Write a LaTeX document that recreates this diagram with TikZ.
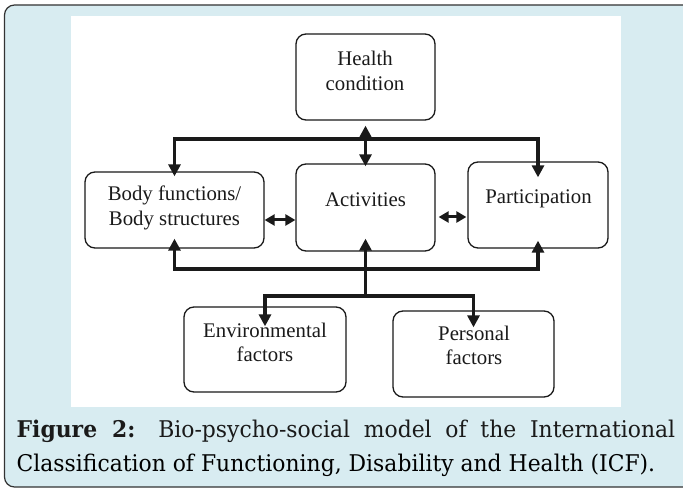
\documentclass[tikz,border=0pt]{standalone}
\usepackage{fontspec}
\usepackage{graphicx}
\usetikzlibrary{arrows.meta}
\newfontfamily\capfont{DejaVu Serif}
\newfontfamily\lblfont{Liberation Serif}
\definecolor{bgblue}{HTML}{D8ECF1}
\definecolor{framegray}{HTML}{333333}
\definecolor{inkc}{HTML}{1A1A1A}
\newsavebox\capboxB
\begin{document}
\sbox\capboxB{\capfont\fontsize{23}{26}\selectfont Classification of Functioning, Disability and Health (ICF).}%
\pgfmathsetmacro\capr{638.5/\the\wd\capboxB}%
\pgfmathsetlengthmacro\capw{658.5/\capr}%
\begin{tikzpicture}[x=1pt,y=-1pt,
  box/.style={draw=inkc, line width=1.3pt, rounded corners=10pt, inner sep=0pt},
  lbl/.style={inner sep=0pt, align=center, text=inkc, font=\lblfont\fontsize{20.8}{24.5}\selectfont},
  conn/.style={draw=inkc, line width=3.4pt, line join=miter},
  dbl/.style={draw=inkc, line width=3pt, {Triangle[width=11pt,length=10pt]}-{Triangle[width=11pt,length=10pt]}},
  tp/.tip={Triangle[width=12pt,length=12pt]}
]
\useasboundingbox (0,0) rectangle (683,489);
\clip (0,0) rectangle (683,489);
% frame
\draw[fill=bgblue, draw=framegray, line width=1.2pt, rounded corners=10pt] (4.5,5) rectangle (720,487);
\fill[white] (71,16) rectangle (621,407);

% boxes
\node[box, minimum width=139pt, minimum height=86pt] (hc) at (365.5,77) {};
\node[box, minimum width=179pt, minimum height=76pt] (bf) at (174.5,210) {};
\node[box, minimum width=139pt, minimum height=87pt] (ac) at (365.5,207.5) {};
\node[box, minimum width=140pt, minimum height=86pt] (pa) at (538,205) {};
\node[box, minimum width=162pt, minimum height=85pt] (en) at (265,349.5) {};
\node[box, minimum width=161pt, minimum height=86pt] (pe) at (473.5,354) {};

% labels
\node[lbl] (hct) at (365,70.9) {Health\\condition};
\node[lbl] (bft) at (174.5,207.7) {Body functions/\\Body structures};
\node[lbl] (act) at (365.5,199.9) {Activities};
\node[lbl] (pat) at (538.5,199.2) {Participation};
\node[lbl] (ent) at (265,342.4) {Environmental\\factors};
\node[lbl] (pet) at (474,345.4) {Personal\\factors};

% helper coordinates
\coordinate (topy) at (0,139);
\coordinate (boty) at (0,269);
\coordinate (midy) at (0,296);

% connectors
\draw[conn, tp-tp] ([yshift=-5pt]bf.north) -- (bf.north |- topy) -| ([yshift=-16pt]pa.north);
\draw[conn, tp-tp] ([yshift=-5pt]hc.south) -- ([yshift=-3pt]ac.north);
\draw[conn, tp-tp] ([yshift=10pt]bf.south) -- (bf.south |- boty) -| ([yshift=8pt]pa.south);
\draw[conn, -tp] (ac.south |- midy) -- ([yshift=13pt]ac.south);
\draw[conn, tp-tp] ([yshift=-20pt]en.north) -- (en.north |- midy) -| ([yshift=-17pt]pe.north);
\draw[dbl] ([yshift=-10pt]bf.east) -- ([yshift=-12.5pt]ac.west);
\draw[dbl] ([xshift=3pt,yshift=-9.5pt]ac.east) -- ([xshift=-1pt,yshift=-12pt]pa.west);

% caption
\node[anchor=base west, inner sep=0pt, text=inkc] (cap1) at (16.5,437.5)
  {\scalebox{\capr}[1]{\makebox[\capw][s]{\capfont\fontsize{23}{26}\selectfont\textbf{Figure 2:} Bio-psycho-social model of the International}}};
\node[anchor=base west, inner sep=0pt, text=inkc] (cap2) at (16.5,471)
  {\scalebox{\capr}[1]{\usebox\capboxB}};
\end{tikzpicture}
\end{document}
